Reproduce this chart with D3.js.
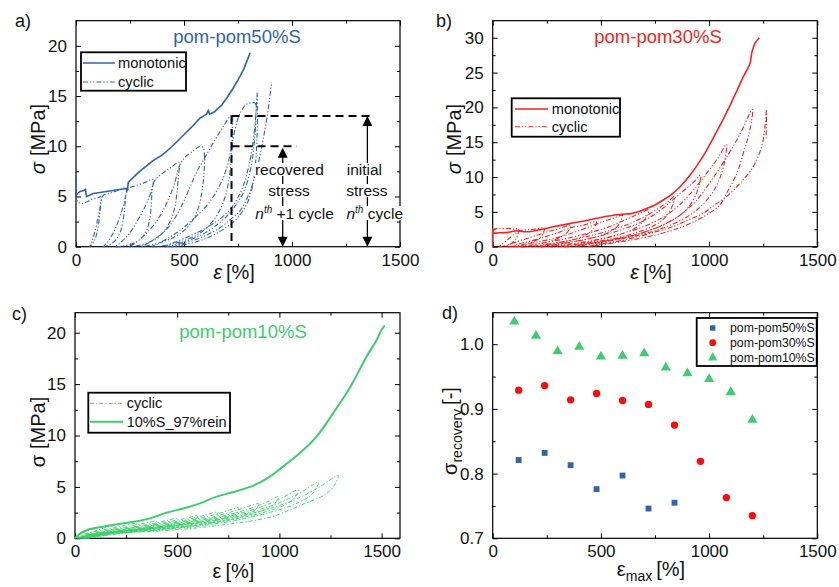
<!DOCTYPE html>
<html>
<head>
<meta charset="utf-8">
<script src="https://cdn.jsdelivr.net/npm/d3@7"></script>
<style>
  body { margin: 0; background: #fff; }
  svg { display: block; font-family: "Liberation Sans", Arial, sans-serif; }
</style>
</head>
<body>
<svg id="fig" width="839" height="587"></svg>
<script>
// ---------- data ----------
const strainTicks = [0, 500, 1000, 1500]
const strainMinor = [250, 750, 1250]

// a) pom-pom50%S
const mono50 = [[0,7.0],[0,5.2],[8,5.3],[20,5.5],[35,5.6],[44,5.7],[48,5.0],[60,5.1],[80,5.3],[110,5.4],[140,5.5],[170,5.6],[200,5.7],[232,5.8],[238,5.6],[242,6.4],[270,7.0],[300,7.6],[330,8.1],[358,8.6],[390,9.0],[420,9.5],[460,10.3],[497,11.1],[535,11.9],[574,12.8],[605,13.2],[613,13.6],[618,13.2],[640,13.4],[659,13.8],[675,14.1],[698,14.8],[728,15.8],[750,16.6],[775,17.6],[806,19.3]]
const cyclic50 = [[0,5.0],[4,4.6],[12,4.4],[25,4.3],[40,4.4],[55,4.5],[70,4.7],[90,4.8],[105,4.9],[115,5.0],
  [114,4.2],[110,3.2],[104,2.2],[96,1.3],[85,0.6],[73,0.2],[64,0],
  [72,0.4],[82,1.1],[94,2.1],[106,3.3],[116,4.4],[126,5.1],[150,5.3],[180,5.5],[210,5.7],[232,5.9],
  [229,4.8],[224,3.6],[216,2.4],[204,1.4],[186,0.7],[160,0.25],[140,0.05],[128,0],
  [140,0.3],[160,0.9],[180,1.7],[200,2.8],[218,4.0],[232,5.2],[245,5.8],[280,6.1],[320,6.4],[355,6.7],
  [352,5.5],[348,4.0],[340,2.6],[326,1.6],[300,0.8],[260,0.3],[210,0.05],[182,0],
  [200,0.3],[230,0.9],[260,1.7],[290,2.8],[320,4.0],[345,5.3],[365,6.6],[400,7.3],[440,7.9],[477,8.4],
  [474,7.0],[468,5.5],[458,4.0],[440,2.7],[410,1.6],[370,0.8],[320,0.3],[270,0.05],[245,0],
  [270,0.3],[310,1.0],[350,1.9],[390,3.1],[425,4.6],[455,6.2],[478,8.0],[500,8.8],[540,9.5],[565,9.9],[580,10.0],[590,9.8],
  [595,8.8],[592,7.2],[584,5.6],[570,4.1],[545,2.8],[505,1.7],[450,0.9],[380,0.35],[320,0.05],[300,0],
  [330,0.3],[380,1.0],[430,2.0],[470,3.3],[505,4.8],[535,6.3],[560,7.5],[600,9.0],[640,10.5],[680,11.9],[721,13.1],
  [724,11.5],[722,9.8],[716,8.0],[705,6.3],[688,4.8],[660,3.4],[620,2.2],[570,1.3],[500,0.6],[420,0.15],[352,0],
  [380,0.3],[430,0.9],[480,1.6],[530,2.5],[580,3.5],[630,4.8],[670,6.3],[700,8.0],[720,10.0],[740,12.0],[760,13.3],[790,14.2],[810,14.3],[829,14.3],
  [832,12.6],[826,10.5],[815,8.5],[798,6.8],[775,5.4],[745,4.3],[710,3.3],[660,2.3],[600,1.4],[530,0.7],[460,0.2],[413,0],
  [440,0.3],[500,0.8],[560,1.4],[620,2.1],[680,3.0],[730,4.2],[770,5.8],[800,8.0],[820,10.5],[832,13.0],[838,15.3],
  [840,13.5],[838,11.0],[832,8.5],[820,6.3],[800,4.7],[770,3.5],[730,2.5],[680,1.7],[620,1.0],[550,0.45],[480,0.1],[440,0],
  [480,0.2],[540,0.6],[600,1.1],[660,1.8],[720,2.8],[760,3.6],[800,5.2],[835,7.5],[862,10.2],[885,13.0],[906,16.4]]

// b) pom-pom30%S
const mono30 = [[0,0],[0,2.6],[4,2.0],[30,2.0],[80,2.1],[110,2.3],[130,2.2],[163,2.15],[220,2.45],[286,2.9],[360,3.35],[440,3.8],[500,4.2],[563,4.55],[610,4.7],[640,4.75],[680,5.1],[712,5.5],[750,6.0],[788,6.7],[830,7.6],[866,8.6],[905,10.0],[943,11.6],[980,13.4],[1019,15.6],[1060,18.0],[1097,20.3],[1130,22.5],[1158,24.4],[1189,26.3],[1197,27.8],[1212,29.2],[1232,30.0]]
const cyclic30 = [[0,2.4],[5,2.5],[20,2.6],[50,2.6],[80,2.6],[100,2.5],[120,2.6],
  [118,2.0],[110,1.3],[95,0.7],[75,0.3],[50,0.1],[30,0],
  [40,0.3],[60,0.8],[80,1.3],[100,1.8],[120,2.2],[150,2.4],[190,2.5],[240,2.7],
  [235,2.1],[225,1.5],[205,1.0],[175,0.6],[140,0.3],[100,0.1],[60,0],
  [75,0.3],[110,0.7],[150,1.1],[190,1.5],[230,1.9],[270,2.3],[310,2.6],[360,3.1],
  [354,2.5],[340,1.9],[315,1.4],[280,0.9],[230,0.5],[170,0.2],[120,0.05],[95,0],
  [110,0.3],[160,0.7],[210,1.1],[260,1.6],[310,2.1],[360,2.7],[420,3.1],[480,3.6],
  [472,2.9],[455,2.2],[425,1.6],[385,1.1],[330,0.7],[260,0.35],[190,0.1],[130,0],
  [150,0.3],[210,0.7],[270,1.1],[330,1.6],[390,2.2],[450,2.9],[500,3.5],[550,4.0],[600,4.5],
  [592,3.7],[575,2.9],[545,2.2],[500,1.6],[440,1.1],[370,0.7],[290,0.3],[220,0.1],[170,0],
  [190,0.3],[260,0.7],[330,1.1],[400,1.6],[470,2.2],[540,2.9],[600,3.7],[660,4.5],[720,5.3],
  [712,4.4],[692,3.5],[660,2.7],[610,2.0],[545,1.4],[470,0.9],[390,0.5],[300,0.2],[215,0],
  [240,0.3],[320,0.7],[400,1.2],[480,1.8],[560,2.5],[640,3.4],[700,4.3],[760,5.4],[800,6.2],[840,7.2],
  [832,6.0],[812,4.8],[780,3.7],[730,2.8],[660,2.0],[580,1.3],[490,0.8],[390,0.35],[265,0],
  [290,0.3],[370,0.7],[450,1.2],[530,1.8],[610,2.6],[690,3.6],[760,4.9],[820,6.4],[880,8.0],[930,9.3],[960,10.3],
  [954,8.8],[935,7.2],[905,5.7],[860,4.4],[800,3.3],[720,2.3],[630,1.5],[530,0.9],[420,0.35],[320,0],
  [350,0.3],[430,0.7],[510,1.2],[600,1.9],[690,2.8],[780,4.1],[860,5.9],[930,8.2],[990,10.6],[1040,12.7],[1080,14.7],
  [1075,12.8],[1060,10.8],[1035,8.8],[995,6.9],[940,5.2],[870,3.8],[780,2.6],[680,1.7],[570,1.0],[460,0.4],[380,0],
  [410,0.3],[500,0.7],[590,1.2],[680,1.9],[770,2.9],[860,4.4],[940,6.6],[1010,9.5],[1080,12.8],[1140,16.0],[1200,19.7],
  [1197,18.2],[1181,15.8],[1158,13.4],[1128,10.5],[1081,7.7],[1050,6.0],[990,4.6],[943,3.8],[870,2.8],[780,1.9],[680,1.2],[560,0.55],[440,0],
  [480,0.3],[580,0.8],[680,1.5],[760,2.2],[835,2.9],[900,3.8],[973,4.8],[1030,6.1],[1081,7.2],[1143,9.1],[1204,11.5],[1243,14.4],[1258,17.2],[1265,19.7],
  [1263,15.3]]

// c) pom-pom10%S
const rein10 = [[0,0],[20,0.4],[57,0.8],[122,1.07],[200,1.35],[285,1.6],[367,1.94],[449,2.5],[530,2.9],[611,3.4],[693,4.05],[775,4.5],[856,5.0],[938,5.8],[1019,7.0],[1100,8.3],[1182,9.9],[1264,12.2],[1346,14.7],[1427,17.7],[1476,19.3],[1500,20.3],[1515,20.7]]
const cyclic10 = [
  [[0,0],[10,0.25],[30,0.45],[60,0.7],[100,0.9],[96,0.62],[85,0.45],[65,0.3],[40,0.16],[15,0.04],[5,0]],
  [[5,0],[20,0.22],[50,0.42],[90,0.64],[130,0.92],[165,1.12],[200,1.25],[193,0.95],[175,0.78],[140,0.6],[100,0.44],[60,0.27],[25,0.08],[10,0]],
  [[10,0],[30,0.24],[70,0.48],[120,0.72],[180,0.98],[230,1.2],[265,1.35],[300,1.45],[292,1.12],[270,0.93],[225,0.75],[170,0.6],[110,0.43],[60,0.25],[25,0.07],[15,0]],
  [[15,0],[40,0.25],[90,0.5],[150,0.75],[220,1.0],[290,1.27],[340,1.47],[400,1.65],[390,1.3],[365,1.08],[310,0.88],[240,0.71],[170,0.56],[100,0.38],[50,0.2],[20,0]],
  [[20,0],[50,0.26],[110,0.52],[180,0.78],[260,1.04],[340,1.3],[420,1.6],[500,1.9],[488,1.5],[460,1.25],[395,1.02],[310,0.83],[220,0.66],[140,0.48],[70,0.27],[25,0]],
  [[25,0],[60,0.27],[130,0.55],[210,0.82],[300,1.1],[390,1.38],[480,1.7],[545,1.95],[600,2.2],[585,1.75],[550,1.45],[470,1.17],[380,0.96],[280,0.76],[180,0.56],[90,0.32],[30,0]],
  [[30,0],[70,0.28],[150,0.58],[240,0.86],[340,1.15],[440,1.45],[540,1.78],[630,2.22],[700,2.55],[683,2.05],[640,1.7],[550,1.35],[450,1.1],[340,0.87],[230,0.64],[120,0.38],[35,0]],
  [[35,0],[80,0.3],[170,0.6],[270,0.9],[380,1.2],[490,1.52],[600,1.9],[710,2.45],[800,2.95],[780,2.35],[730,1.95],[630,1.52],[520,1.22],[400,0.95],[280,0.7],[150,0.43],[40,0]],
  [[40,0],[90,0.31],[190,0.62],[300,0.93],[420,1.25],[540,1.6],[660,2.02],[780,2.65],[900,3.35],[877,2.68],[820,2.2],[710,1.7],[590,1.32],[460,1.0],[320,0.73],[180,0.46],[45,0]],
  [[45,0],[100,0.32],[210,0.64],[330,0.96],[460,1.3],[590,1.68],[720,2.15],[850,2.85],[930,3.45],[995,4.05],[970,3.2],[905,2.6],[790,1.95],[650,1.45],[510,1.08],[360,0.78],[200,0.48],[50,0]],
  [[50,0],[110,0.33],[230,0.66],[360,1.0],[500,1.36],[640,1.76],[780,2.3],[910,3.05],[1010,3.9],[1092,4.7],[1064,3.7],[990,2.95],[860,2.2],[710,1.6],[560,1.15],[400,0.82],[220,0.5],[55,0]],
  [[55,0],[120,0.34],[250,0.68],[390,1.03],[540,1.4],[690,1.84],[840,2.45],[980,3.3],[1100,4.4],[1190,5.45],[1160,4.3],[1080,3.35],[940,2.45],[780,1.72],[610,1.2],[440,0.86],[240,0.52],[60,0]],
  [[60,0],[130,0.35],[270,0.7],[420,1.06],[580,1.45],[740,1.92],[900,2.6],[1050,3.55],[1180,4.8],[1288,6.1],[1270,5.2],[1240,4.5],[1200,4.0],[1127,3.4],[1050,2.75],[964,2.1],[850,1.65],[719,1.3],[600,1.02],[475,0.8],[350,0.65],[250,0.55],[148,0.42],[60,0.2],[20,0]]
]

// d) stress recovery vs maximum strain
const epsMax50 = [120, 240, 360, 480, 600, 720, 840]
const recov50 = [0.821, 0.832, 0.813, 0.776, 0.797, 0.746, 0.755]
const epsMax30 = [120, 240, 360, 480, 600, 720, 840, 960, 1080, 1200]
const recov30 = [0.929, 0.936, 0.914, 0.924, 0.913, 0.907, 0.875, 0.819, 0.763, 0.735]
const epsMax10 = [100, 200, 300, 400, 500, 600, 700, 800, 900, 1000, 1100, 1200]
const recov10 = [1.035, 1.013, 0.989, 0.996, 0.981, 0.982, 0.986, 0.964, 0.955, 0.946, 0.926, 0.883]

const blue = '#2f64ac', red = '#f52222', green = '#3ccd6c'
const dashA = '5,2,1.2,2,1.2,2'
const dashC = '4,2,1.3,2'

// ---------- helpers ----------
const svg = d3.select('#fig')
svg.append('rect').attr('width', 839).attr('height', 587).attr('fill', '#fff')

const styleAxis = (sel) => {
  sel.attr('font-family', null).attr('font-size', 17).attr('color', '#000')
  sel.select('.domain').remove()
  sel.selectAll('line').attr('stroke-width', 1)
  sel.selectAll('text').attr('fill', '#111')
}

function makePanel(p) {
  const x = d3.scaleLinear().domain(p.xDomain).range([p.left, p.right])
  const y = d3.scaleLinear().domain(p.yDomain).range([p.bottom, p.top])
  const g = svg.append('g')
  const fx = d3.format('d')
  g.append('g').attr('transform', `translate(0,${p.bottom})`)
    .call(d3.axisBottom(x).tickValues(strainTicks).tickSize(-5).tickPadding(7).tickFormat(fx)).call(styleAxis)
  g.append('g').attr('transform', `translate(0,${p.bottom})`)
    .call(d3.axisBottom(x).tickValues(strainMinor).tickSize(-3).tickFormat('')).call(styleAxis)
  g.append('g').attr('transform', `translate(0,${p.top})`)
    .call(d3.axisTop(x).tickValues(strainTicks).tickSize(-5).tickFormat('')).call(styleAxis)
  g.append('g').attr('transform', `translate(0,${p.top})`)
    .call(d3.axisTop(x).tickValues(strainMinor).tickSize(-3).tickFormat('')).call(styleAxis)
  g.append('g').attr('transform', `translate(${p.left},0)`)
    .call(d3.axisLeft(y).tickValues(p.yMajor).tickSize(-5).tickPadding(9).tickFormat(p.yFormat)).call(styleAxis)
  g.append('g').attr('transform', `translate(${p.left},0)`)
    .call(d3.axisLeft(y).tickValues(p.yMinor).tickSize(-3).tickFormat('')).call(styleAxis)
  g.append('g').attr('transform', `translate(${p.right},0)`)
    .call(d3.axisRight(y).tickValues(p.yMajor).tickSize(-5).tickFormat('')).call(styleAxis)
  g.append('g').attr('transform', `translate(${p.right},0)`)
    .call(d3.axisRight(y).tickValues(p.yMinor).tickSize(-3).tickFormat('')).call(styleAxis)
  g.append('rect')
    .attr('x', p.left).attr('y', p.top)
    .attr('width', p.right - p.left).attr('height', p.bottom - p.top)
    .attr('fill', 'none').attr('stroke', '#000').attr('stroke-width', 1.2)
  // panel letter
  g.append('text').attr('x', p.letterX).attr('y', p.letterY)
    .attr('font-size', 18).attr('fill', '#111').text(p.letter)
  return {x, y, g}
}

const lineGen = (x, y, curve) => d3.line()
  .x(d => x(d[0])).y(d => y(d[1]))
  .curve(curve || d3.curveCatmullRom.alpha(0.5))

function drawCurve(P, pts, color, width, dash, curve) {
  P.g.append('path').datum(pts)
    .attr('d', lineGen(P.x, P.y, curve))
    .attr('fill', 'none').attr('stroke', color)
    .attr('stroke-width', width)
    .attr('stroke-dasharray', dash || null)
    .attr('stroke-linejoin', 'round')
}

function axisTitles(P, xLabel, yLabel, xBase, yBase, yCenter) {
  const xt = P.g.append('text')
    .attr('x', (P.x.range()[0] + P.x.range()[1]) / 2 - 4).attr('y', xBase)
    .attr('text-anchor', 'middle').attr('font-size', 20).attr('fill', '#111')
  xLabel(xt)
  const yt = P.g.append('text')
    .attr('transform', `translate(${yBase},${yCenter}) rotate(-90)`)
    .attr('text-anchor', 'middle').attr('font-size', 20).attr('fill', '#111')
  yLabel(yt)
}

function legendBox(P, box, rows, fontSize) {
  P.g.append('rect').attr('x', box[0]).attr('y', box[1])
    .attr('width', box[2]).attr('height', box[3])
    .attr('fill', '#fff').attr('stroke', '#000').attr('stroke-width', 1.8)
  rows.forEach(r => {
    if (r.line) {
      P.g.append('line').attr('x1', r.x1).attr('x2', r.x2).attr('y1', r.y).attr('y2', r.y)
        .attr('stroke', r.color).attr('stroke-width', r.width).attr('stroke-dasharray', r.dash || null)
    }
    P.g.append('text').attr('x', r.tx).attr('y', r.y).attr('dy', '0.35em')
      .attr('font-size', fontSize).attr('fill', '#111').text(r.label)
  })
}

// ---------- panel a ----------
const A = makePanel({left: 76, right: 400, top: 20.7, bottom: 246.7,
  xDomain: [0, 1500], yDomain: [0, 22.5],
  yMajor: [0, 5, 10, 15, 20], yMinor: [2.5, 7.5, 12.5, 17.5], yFormat: d3.format('d'),
  letter: 'a)', letterX: 15, letterY: 27})
drawCurve(A, cyclic50, blue, 1.1, dashA)
drawCurve(A, mono50, blue, 1.6, null, d3.curveLinear)
A.g.append('text').attr('x', 237).attr('y', 43).attr('text-anchor', 'middle')
  .attr('font-size', 18.5).attr('fill', blue).text('pom-pom50%S')
legendBox(A, [81, 52.3, 105, 38.4], [
  {line: true, x1: 83, x2: 115, y: 63, color: blue, width: 1.5, tx: 118, label: 'monotonic'},
  {line: true, x1: 83, x2: 115, y: 82, color: blue, width: 1.1, dash: dashA, tx: 118, label: 'cyclic'}
], 14.7)

// annotation: initial / recovered stress
const ann = A.g.append('g')
const dashed = (x1, y1, x2, y2) => ann.append('line')
  .attr('x1', A.x(x1)).attr('y1', A.y(y1)).attr('x2', A.x(x2)).attr('y2', A.y(y2))
  .attr('stroke', '#000').attr('stroke-width', 2).attr('stroke-dasharray', '8,5')
dashed(720, 13, 1370, 13)
dashed(720, 10, 1022, 10)
dashed(720, 13, 720, 0)
const arrow = (ex, s0, s1) => {
  const xp = A.x(ex), yt = A.y(s1), yb = A.y(s0)
  ann.append('line').attr('x1', xp).attr('x2', xp).attr('y1', yt + 8).attr('y2', yb - 8)
    .attr('stroke', '#000').attr('stroke-width', 1.3)
  ann.append('path').attr('d', `M${xp},${yt}L${xp - 5},${yt + 10}L${xp + 5},${yt + 10}Z`).attr('fill', '#000')
  ann.append('path').attr('d', `M${xp},${yb}L${xp - 5},${yb - 10}L${xp + 5},${yb - 10}Z`).attr('fill', '#000')
}
arrow(957, 0, 9.85)
arrow(1349, 0, 13)
const note = (ex, yb, build) => {
  const t = ann.append('text').attr('x', A.x(ex)).attr('y', yb)
    .attr('text-anchor', 'middle').attr('font-size', 15.5).attr('fill', '#111')
  build(t)
  const b = t.node().getBBox()
  ann.insert('rect', () => t.node())
    .attr('x', b.x - 1).attr('y', b.y + 2).attr('width', b.width + 2).attr('height', b.height - 4)
    .attr('fill', '#fff')
}
note(988, 175, t => t.text('recovered'))
note(986, 196, t => t.text('stress'))
note(1012, 219, t => {
  t.append('tspan').attr('font-style', 'italic').text('n')
  t.append('tspan').attr('font-style', 'italic').attr('font-size', 10).attr('dy', -6).text('th')
  t.append('tspan').attr('dy', 6).text(' +1 cycle')
})
note(1335, 175, t => t.text('initial'))
note(1347, 196, t => t.text('stress'))
note(1383, 219, t => {
  t.append('tspan').attr('font-style', 'italic').text('n')
  t.append('tspan').attr('font-style', 'italic').attr('font-size', 10).attr('dy', -6).text('th')
  t.append('tspan').attr('dy', 6).text(' cycle')
})

const sigmaLabel = (italic) => t => {
  t.append('tspan').attr('font-style', italic ? 'italic' : null).text('σ')
  t.append('tspan').attr('dx', 6).text('[MPa]')
}
const epsLabel = (italic) => t => {
  t.append('tspan').attr('font-style', italic ? 'italic' : null).text('ε')
  t.append('tspan').attr('dx', 4).text('[%]')
}
axisTitles(A, epsLabel(true), sigmaLabel(true), 279, 45, 139)

// ---------- panel b ----------
const B = makePanel({left: 492.7, right: 817.3, top: 20.7, bottom: 246.7,
  xDomain: [0, 1500], yDomain: [0, 32.45],
  yMajor: [0, 5, 10, 15, 20, 25, 30], yMinor: [2.5, 7.5, 12.5, 17.5, 22.5, 27.5], yFormat: d3.format('d'),
  letter: 'b)', letterX: 436, letterY: 27})
drawCurve(B, cyclic30, red, 1.1, dashA)
drawCurve(B, mono30, red, 1.6)
B.g.append('text').attr('x', 658).attr('y', 43).attr('text-anchor', 'middle')
  .attr('font-size', 18.5).attr('fill', red).text('pom-pom30%S')
legendBox(B, [511.7, 98.3, 108.3, 38.4], [
  {line: true, x1: 515, x2: 548, y: 109, color: red, width: 1.5, tx: 551.7, label: 'monotonic'},
  {line: true, x1: 515, x2: 548, y: 126.7, color: red, width: 1.1, dash: dashA, tx: 551.7, label: 'cyclic'}
], 14.7)
axisTitles(B, epsLabel(true), sigmaLabel(true), 279, 461, 139)

// ---------- panel c ----------
const C = makePanel({left: 75, right: 400, top: 312.7, bottom: 538.3,
  xDomain: [0, 1590], yDomain: [0, 21.95],
  yMajor: [0, 5, 10, 15, 20], yMinor: [2.5, 7.5, 12.5, 17.5], yFormat: d3.format('d'),
  letter: 'c)', letterX: 12, letterY: 320})
cyclic10.forEach(c => drawCurve(C, c, green, 0.9, dashC))
drawCurve(C, rein10, green, 2)
C.g.append('text').attr('x', 243).attr('y', 338).attr('text-anchor', 'middle')
  .attr('font-size', 18.5).attr('fill', green).text('pom-pom10%S')
legendBox(C, [88.3, 392.7, 141.7, 40], [
  {line: true, x1: 90, x2: 123, y: 403.3, color: green, width: 1, dash: dashC, tx: 126.7, label: 'cyclic'},
  {line: true, x1: 90, x2: 123, y: 421.7, color: green, width: 2, tx: 126.7, label: '10%S_97%rein'}
], 14.5)
axisTitles(C, epsLabel(false), sigmaLabel(false), 578, 45, 432)

// ---------- panel d ----------
const D = makePanel({left: 492.7, right: 817.3, top: 312.7, bottom: 538.3,
  xDomain: [0, 1500], yDomain: [0.7, 1.0487],
  yMajor: [0.7, 0.8, 0.9, 1.0], yMinor: [0.75, 0.85, 0.95], yFormat: d3.format('.1f'),
  letter: 'd)', letterX: 442, letterY: 319})
const recSeries = [
  {xs: epsMax50, ys: recov50, color: blue, sym: d3.symbolSquare, size: 34, label: 'pom-pom50%S'},
  {xs: epsMax30, ys: recov30, color: '#ff0a0a', sym: d3.symbolCircle, size: 42, label: 'pom-pom30%S'},
  {xs: epsMax10, ys: recov10, color: green, sym: d3.symbolTriangle, size: 44, label: 'pom-pom10%S'}
]
recSeries.forEach(s => {
  D.g.append('g').selectAll('path').data(s.xs.map((v, i) => [v, s.ys[i]])).join('path')
    .attr('transform', d => `translate(${D.x(d[0])},${D.y(d[1])})`)
    .attr('d', d3.symbol(s.sym, s.size)).attr('fill', s.color)
})
legendBox(D, [696.7, 318, 120, 48], recSeries.map((s, i) => ({
  line: false, y: [328, 342.7, 357.7][i], tx: 730, label: s.label
})), 12.3)
recSeries.forEach((s, i) => {
  D.g.append('path').attr('transform', `translate(712.7,${[328, 342.7, 357.7][i]})`)
    .attr('d', d3.symbol(s.sym, s.size * 0.85)).attr('fill', s.color)
})
axisTitles(D,
  t => {
    t.append('tspan').text('ε')
    t.append('tspan').attr('font-size', 14).attr('dy', 5).text('max')
    t.append('tspan').attr('dy', -5).attr('dx', 4).text('[%]')
  },
  t => {
    t.append('tspan').text('σ')
    t.append('tspan').attr('font-size', 14).attr('dy', 5).text('recovery')
    t.append('tspan').attr('dy', -5).attr('dx', 4).text('[-]')
  }, 576, 457, 431)
</script>
</body>
</html>
